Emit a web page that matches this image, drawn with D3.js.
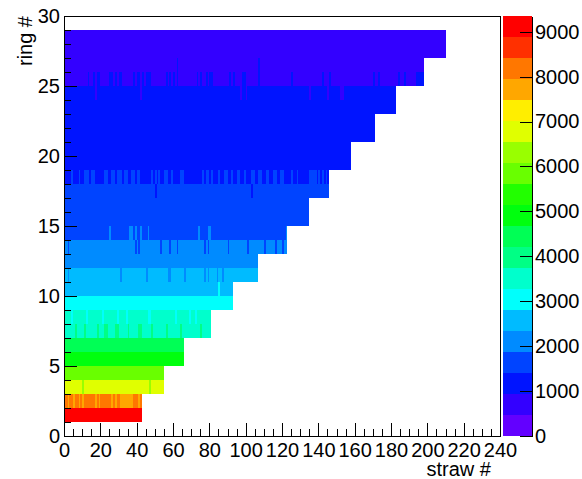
<!DOCTYPE html>
<html>
<head>
<meta charset="utf-8">
<script src="https://cdn.jsdelivr.net/npm/d3@7"></script>
<style>
  body { margin: 0; background: #fff; }
  text { font-family: "Liberation Sans", Arial, sans-serif; }
</style>
</head>
<body>
<script>
// rings that have straws (ring 0 and 29 are empty)
const rings = [1, 2, 3, 4, 5, 6, 7, 8, 9, 10, 11, 12, 13, 14, 15, 16, 17, 18, 19, 20, 21, 22, 23, 24, 25, 26, 27, 28];
const strawsPerRing = [43, 43, 55, 55, 66, 66, 81, 81, 93, 93, 107, 107, 123, 123, 135, 135, 146, 146, 158, 158, 171, 171, 183, 183, 198, 198, 210, 210];
// typical count of a straw in each ring
const ringCounts = [9200, 8150, 6800, 5850, 4900, 4450, 3600, 3550, 3000, 2600, 2450, 2100, 1950, 1750, 1650, 1550, 1480, 1380, 1250, 1200, 1150, 1100, 1050, 980, 920, 850, 750, 650];
// straws that fall in a neighbouring colour band
const oddStraws = [
    { ring: 2, count: 7800, straws: [2, 5, 8, 10, 17, 19, 26, 28, 31, 32, 33, 34, 35, 36, 37, 41] },
    { ring: 3, count: 6400, straws: [10, 47] },
    { ring: 7, count: 3900, straws: [6, 11, 18, 22, 23, 28, 29, 35, 41, 42, 48, 56, 64, 75] },
    { ring: 8, count: 3200, straws: [4, 12, 21, 29, 34, 46, 47, 61, 69, 72] },
    { ring: 10, count: 2850, straws: [85] },
    { ring: 11, count: 2250, straws: [2, 31, 45, 57, 58, 66, 77, 79, 84, 87] },
    { ring: 13, count: 1800, straws: [2, 39, 41, 53, 58, 62, 77, 79, 90, 101, 110, 116, 120] },
    { ring: 14, count: 1900, straws: [25, 36, 37, 39, 42, 46, 74, 79, 80, 122] },
    { ring: 17, count: 1380, straws: [50, 103] },
    { ring: 18, count: 1450, straws: [4, 8, 11, 12, 13, 15, 16, 22, 23, 26, 27, 29, 30, 31, 33, 34, 37, 38, 40, 41, 48, 50, 52, 55, 56, 59, 64, 65, 76, 78, 79, 81, 85, 88, 89, 92, 95, 96, 99, 103, 104, 107, 108, 111, 112, 115, 116, 119, 120, 125, 128, 135, 136, 137, 138, 140, 142, 144] },
    { ring: 24, count: 900, straws: [17, 42, 97, 100, 135, 145, 152, 153] },
    { ring: 25, count: 960, straws: [13, 16, 18, 19, 25, 26, 28, 30, 31, 38, 40, 41, 43, 45, 46, 47, 56, 58, 60, 62, 73, 75, 78, 80, 81, 91, 93, 98, 99, 107, 125, 142, 146, 170, 173, 184, 187, 194, 195, 196, 197] },
    { ring: 26, count: 960, straws: [62, 107] }
];
const zMax = 9350;
const xTicks = [0, 20, 40, 60, 80, 100, 120, 140, 160, 180, 200, 220, 240];
const yTicks = [0, 5, 10, 15, 20, 25, 30];
const zTicks = [0, 1000, 2000, 3000, 4000, 5000, 6000, 7000, 8000, 9000];

const width = 582, height = 479;
const frame = { left: 64, right: 500, top: 16, bottom: 436 };
const palX = 503, palW = 29;
const font = '"Liberation Sans", Arial, sans-serif';
const fontSize = 20;

const svg = d3.select('body').append('svg')
    .attr('width', width)
    .attr('height', height);

const x = d3.scaleLinear().domain([0, 240]).range([frame.left, frame.right]);
const y = d3.scaleLinear().domain([0, 30]).range([frame.bottom, frame.top]);
const z = d3.scaleLinear().domain([0, zMax]).range([frame.bottom, frame.top]);

// ROOT "pretty" palette: 50 hues violet -> red, 20 contour levels picked from it
const nLevels = 20;
const colours = d3.range(nLevels).map(j => {
    const k = Math.floor((j + 0.99) * 50 / nLevels);
    return d3.hsl(280 - (k + 1) * 5.6, 1, 0.5).formatHex();
});
const colour = d3.scaleQuantize().domain([0, zMax]).range(colours);

// build cells
const cells = [];
rings.forEach((r, i) => {
    const odd = new Map();
    oddStraws.filter(o => o.ring === r)
        .forEach(o => o.straws.forEach(s => odd.set(s, o.count)));
    for (let s = 0; s < strawsPerRing[i]; s++) {
        cells.push({ ring: r, straw: s, count: odd.has(s) ? odd.get(s) : ringCounts[i] });
    }
});

svg.append('g')
    .attr('shape-rendering', 'crispEdges')
    .selectAll('rect')
    .data(cells)
    .join('rect')
    .attr('x', d => x(d.straw))
    .attr('y', d => y(d.ring + 1))
    .attr('width', d => x(d.straw + 1) - x(d.straw))
    .attr('height', d => y(d.ring) - y(d.ring + 1))
    .attr('fill', d => colour(d.count));

// frame
svg.append('rect')
    .attr('x', frame.left)
    .attr('y', frame.top)
    .attr('width', frame.right - frame.left)
    .attr('height', frame.bottom - frame.top)
    .attr('fill', 'none')
    .attr('stroke', '#000')
    .attr('shape-rendering', 'crispEdges');

// axes
const styleAxis = g => {
    g.attr('font-family', font).attr('font-size', fontSize);
    g.selectAll('line, path').attr('stroke', '#000').attr('shape-rendering', 'crispEdges');
    g.selectAll('text').attr('fill', '#000');
};

svg.append('g')
    .attr('transform', `translate(0, ${frame.bottom})`)
    .call(d3.axisBottom(x).tickValues(d3.range(0, 241, 5).filter(v => v % 20 !== 0))
        .tickSize(-7).tickFormat(''))
    .call(g => g.select('.domain').remove())
    .call(styleAxis);

svg.append('g')
    .attr('transform', `translate(0, ${frame.bottom})`)
    .call(d3.axisBottom(x).tickValues(xTicks).tickSize(-13).tickSizeOuter(0).tickPadding(7))
    .call(styleAxis);

svg.append('g')
    .attr('transform', `translate(${frame.left}, 0)`)
    .call(d3.axisLeft(y).tickValues(d3.range(0, 31).filter(v => v % 5 !== 0))
        .tickSize(-7).tickFormat(''))
    .call(g => g.select('.domain').remove())
    .call(styleAxis);

svg.append('g')
    .attr('transform', `translate(${frame.left}, 0)`)
    .call(d3.axisLeft(y).tickValues(yTicks).tickSize(-13).tickSizeOuter(0).tickPadding(4))
    .call(styleAxis);

// palette
svg.append('g')
    .attr('shape-rendering', 'crispEdges')
    .selectAll('rect')
    .data(colours)
    .join('rect')
    .attr('x', palX)
    .attr('y', (c, j) => z((j + 1) * zMax / nLevels))
    .attr('width', palW)
    .attr('height', (c, j) => z(j * zMax / nLevels) - z((j + 1) * zMax / nLevels))
    .attr('fill', c => c);

svg.append('g')
    .attr('transform', `translate(${palX + palW}, 0)`)
    .call(d3.axisRight(z).tickValues(zTicks).tickFormat(d3.format('d'))
        .tickSize(-12).tickSizeOuter(0).tickPadding(3))
    .call(styleAxis);

// titles
svg.append('text')
    .attr('x', 491)
    .attr('y', 476)
    .attr('text-anchor', 'end')
    .attr('font-size', fontSize)
    .text('straw #');

svg.append('text')
    .attr('transform', 'translate(32, 16) rotate(-90)')
    .attr('text-anchor', 'end')
    .attr('font-size', fontSize)
    .text('ring #');
</script>
</body>
</html>
